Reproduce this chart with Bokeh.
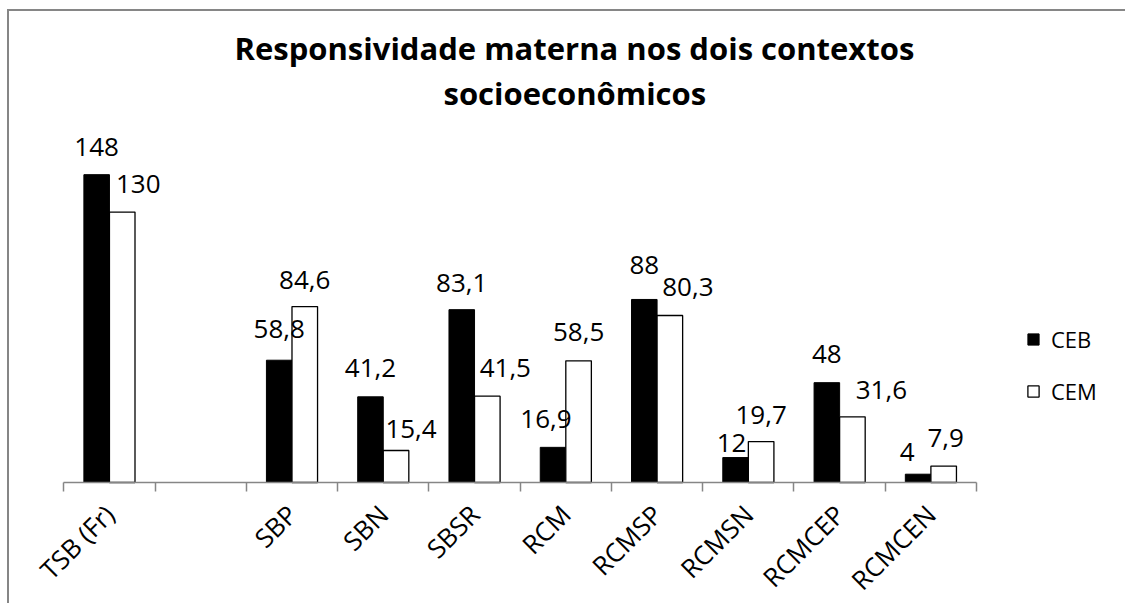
import math
from bokeh.plotting import figure
from bokeh.models import (ColumnDataSource, FixedTicker, LinearAxis, Range1d,
                          Title, Legend, LegendItem)
from bokeh.core.properties import value
from bokeh.embed import file_html
from bokeh.resources import INLINE

# ---- data ----
categories = ["TSB (Fr)", "", "SBP", "SBN", "SBSR", "RCM", "RCMSP", "RCMSN", "RCMCEP", "RCMCEN"]
ceb = [148, None, 58.8, 41.2, 83.1, 16.9, 88, 12, 48, 4]
cem = [130, None, 84.6, 15.4, 41.5, 58.5, 80.3, 19.7, 31.6, 7.9]
series_names = ["CEB", "CEM"]
title_lines = ["Responsividade materna nos dois contextos", "socioeconômicos"]

# ---- label nudges (screen px, style only) ----
ceb_dx = [0, 0, 0, 0, 0, -7, 0, -4, 0, -11]
ceb_dy = [-27, 0, -30, -28, -26, -27, -33, -14, -28, -21]
cem_dx = [16, 0, 0, 15, 18, 0, 18, 0, 29, 2]
cem_dy = [-27, 0, -26, -20, -27, -28, -27, -26, -26, -27]

FONT = "Open Sans"
BAR_W = 0.28
SHIFT = 0.14
AXIS_GRAY = "#868686"


def fmt(v):
    return f"{v:g}".replace(".", ",")


def build_source(vals, shift, dx, dy):
    xs, ys, labels, xo, yo = [], [], [], [], []
    for i, v in enumerate(vals):
        if v is None:
            continue
        xs.append(i + 0.5 + shift)
        ys.append(v)
        labels.append(fmt(v))
        xo.append(dx[i])
        yo.append(dy[i] - 1)
    return ColumnDataSource(dict(x=xs, top=ys, label=labels, xo=xo, yo=yo))


src_ceb = build_source(ceb, -SHIFT, ceb_dx, ceb_dy)
src_cem = build_source(cem, SHIFT, cem_dx, cem_dy)

W, H = 1118, 594
p = figure(width=W, height=H, output_backend="svg", toolbar_location=None,
           x_range=Range1d(-0.595, 11.654), y_range=Range1d(-59.13, 172.6),
           x_axis_location=None, y_axis_location=None,
           min_border_left=0, min_border_right=0,
           min_border_top=112, min_border_bottom=0)
p.outline_line_color = None
p.xgrid.visible = False
p.ygrid.visible = False
p.background_fill_color = "white"
p.border_fill_color = "white"
p.styles = {"margin-left": "7px", "margin-top": "9px",
            "border-left": f"2px solid {AXIS_GRAY}", "border-top": f"2px solid {AXIS_GRAY}"}

r_ceb = p.vbar(x="x", top="top", width=BAR_W, source=src_ceb,
               fill_color="black", line_color="black", line_width=1)
r_cem = p.vbar(x="x", top="top", width=BAR_W, source=src_cem,
               fill_color="white", line_color="black", line_width=1.3)

for src in (src_ceb, src_cem):
    p.text(x="x", y="top", text="label", source=src, x_offset="xo", y_offset="yo",
           text_align="center", text_baseline="alphabetic",
           text_font=value(FONT), text_font_size="26px", text_color="black")

# ---- category axis at y=0: ticks at boundaries, labels at centres ----
centers = [i + 0.5 for i in range(len(categories))]
bounds = list(range(len(categories) + 1))
ax = LinearAxis(ticker=FixedTicker(ticks=centers, minor_ticks=bounds),
                bounds=(0, len(categories)), fixed_location=0)
ax.major_label_overrides = {c: lab for c, lab in zip(centers, categories)}
ax.major_tick_in = 0
ax.major_tick_out = 0
ax.minor_tick_in = 0
ax.minor_tick_out = 9
ax.axis_line_color = AXIS_GRAY
ax.axis_line_width = 1.5
ax.minor_tick_line_color = AXIS_GRAY
ax.minor_tick_line_width = 1.5
ax.major_label_orientation = math.pi / 4
ax.major_label_text_font = FONT
ax.major_label_text_font_size = "26px"
ax.major_label_text_color = "black"
ax.major_label_standoff = 18
p.add_layout(ax, "below")

# ---- title (two lines) ----
p.title.text = title_lines[0]
p.title.align = "left"
p.title.offset = 225
p.title.text_font = FONT
p.title.text_font_size = "31px"
p.title.text_font_style = "bold"
p.title.text_color = "black"
p.title.standoff = -18
t2 = Title(text=title_lines[1], align="left", offset=434, text_font=FONT,
           text_font_size="31px", text_font_style="bold", text_color="black", standoff=20)
p.add_layout(t2, "above")

# ---- legend ----
legend = Legend(items=[LegendItem(label=series_names[0], renderers=[r_ceb]),
                       LegendItem(label=series_names[1], renderers=[r_cem])],
                location=(1017, 199), orientation="vertical",
                glyph_width=14, glyph_height=14, label_standoff=11,
                label_text_font=FONT, label_text_font_size="22px",
                label_text_color="black", label_height=22, spacing=22,
                padding=0, margin=0, border_line_color=None,
                background_fill_alpha=0)
p.add_layout(legend, "center")

open("out.html", "w").write(file_html(p, INLINE))
